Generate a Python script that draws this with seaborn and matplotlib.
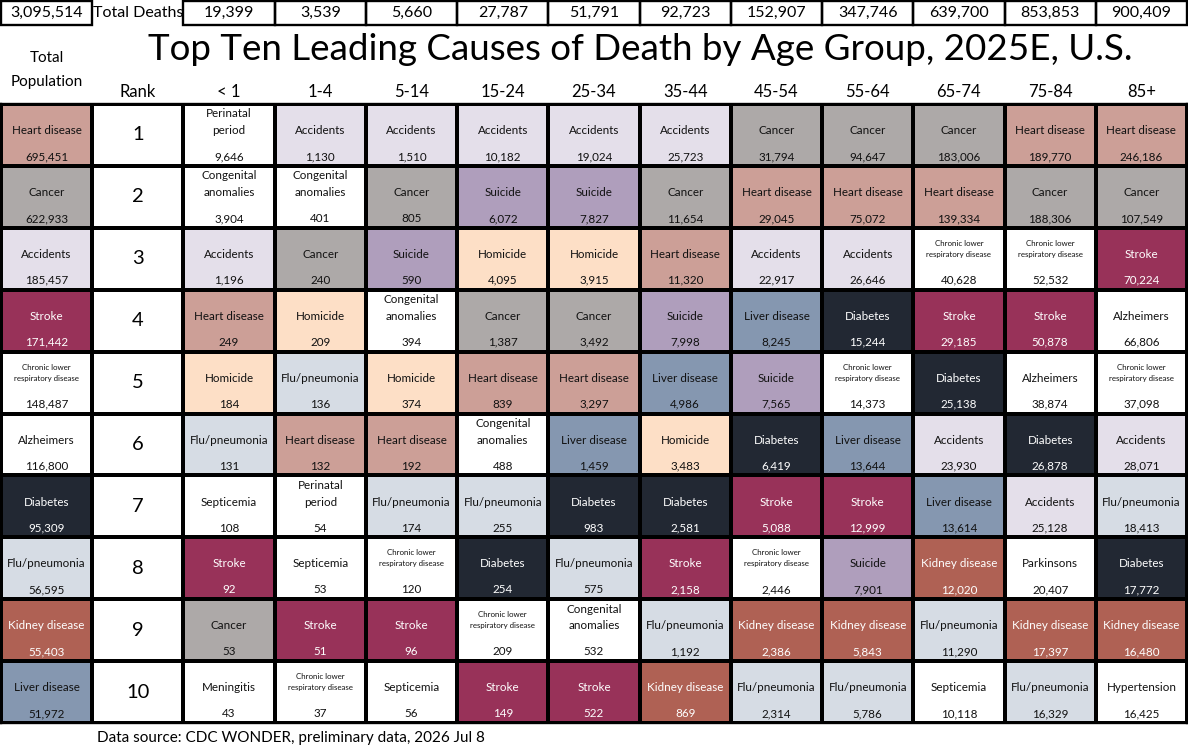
import numpy as np
import pandas as pd
import matplotlib
matplotlib.use("Agg")
import matplotlib.pyplot as plt
from matplotlib.colors import ListedColormap
from matplotlib.patches import Rectangle
import seaborn as sns

sns.set_theme(style="white")
plt.rcParams['font.family'] = ['Lato', 'DejaVu Sans']

# ---------------- data ----------------
age_groups = ["< 1", "1-4", "5-14", "15-24", "25-34", "35-44", "45-54",
              "55-64", "65-74", "75-84", "85+"]
total_deaths_all = "3,095,514"
total_deaths = [19399, 3539, 5660, 27787, 51791, 92723, 152907, 347746,
                639700, 853853, 900409]
ranks = list(range(1, 11))

CLRD = "Chronic lower respiratory disease"

total_pop_causes = ["Heart disease", "Cancer", "Accidents", "Stroke", CLRD,
                    "Alzheimers", "Diabetes", "Flu/pneumonia", "Kidney disease",
                    "Liver disease"]
total_pop_values = [695451, 622933, 185457, 171442, 148487, 116800, 95309,
                    56595, 55403, 51972]

causes_lt1 = ["Perinatal period", "Congenital anomalies", "Accidents", "Heart disease",
              "Homicide", "Flu/pneumonia", "Septicemia", "Stroke", "Cancer", "Meningitis"]
values_lt1 = [9646, 3904, 1196, 249, 184, 131, 108, 92, 53, 43]

causes_1_4 = ["Accidents", "Congenital anomalies", "Cancer", "Homicide", "Flu/pneumonia",
              "Heart disease", "Perinatal period", "Septicemia", "Stroke", CLRD]
values_1_4 = [1130, 401, 240, 209, 136, 132, 54, 53, 51, 37]

causes_5_14 = ["Accidents", "Cancer", "Suicide", "Congenital anomalies", "Homicide",
               "Heart disease", "Flu/pneumonia", CLRD, "Stroke", "Septicemia"]
values_5_14 = [1510, 805, 590, 394, 374, 192, 174, 120, 96, 56]

causes_15_24 = ["Accidents", "Suicide", "Homicide", "Cancer", "Heart disease",
                "Congenital anomalies", "Flu/pneumonia", "Diabetes", CLRD, "Stroke"]
values_15_24 = [10182, 6072, 4095, 1387, 839, 488, 255, 254, 209, 149]

causes_25_34 = ["Accidents", "Suicide", "Homicide", "Cancer", "Heart disease",
                "Liver disease", "Diabetes", "Flu/pneumonia", "Congenital anomalies", "Stroke"]
values_25_34 = [19024, 7827, 3915, 3492, 3297, 1459, 983, 575, 532, 522]

causes_35_44 = ["Accidents", "Cancer", "Heart disease", "Suicide", "Liver disease",
                "Homicide", "Diabetes", "Stroke", "Flu/pneumonia", "Kidney disease"]
values_35_44 = [25723, 11654, 11320, 7998, 4986, 3483, 2581, 2158, 1192, 869]

causes_45_54 = ["Cancer", "Heart disease", "Accidents", "Liver disease", "Suicide",
                "Diabetes", "Stroke", CLRD, "Kidney disease", "Flu/pneumonia"]
values_45_54 = [31794, 29045, 22917, 8245, 7565, 6419, 5088, 2446, 2386, 2314]

causes_55_64 = ["Cancer", "Heart disease", "Accidents", "Diabetes", CLRD,
                "Liver disease", "Stroke", "Suicide", "Kidney disease", "Flu/pneumonia"]
values_55_64 = [94647, 75072, 26646, 15244, 14373, 13644, 12999, 7901, 5843, 5786]

causes_65_74 = ["Cancer", "Heart disease", CLRD, "Stroke", "Diabetes", "Accidents",
                "Liver disease", "Kidney disease", "Flu/pneumonia", "Septicemia"]
values_65_74 = [183006, 139334, 40628, 29185, 25138, 23930, 13614, 12020, 11290, 10118]

causes_75_84 = ["Heart disease", "Cancer", CLRD, "Stroke", "Alzheimers", "Diabetes",
                "Accidents", "Parkinsons", "Kidney disease", "Flu/pneumonia"]
values_75_84 = [189770, 188306, 52532, 50878, 38874, 26878, 25128, 20407, 17397, 16329]

causes_85p = ["Heart disease", "Cancer", "Stroke", "Alzheimers", CLRD, "Accidents",
              "Flu/pneumonia", "Diabetes", "Kidney disease", "Hypertension"]
values_85p = [246186, 107549, 70224, 66806, 37098, 28071, 18413, 17772, 16480, 16425]

age_causes = [causes_lt1, causes_1_4, causes_5_14, causes_15_24, causes_25_34,
              causes_35_44, causes_45_54, causes_55_64, causes_65_74, causes_75_84, causes_85p]
age_values = [values_lt1, values_1_4, values_5_14, values_15_24, values_25_34,
              values_35_44, values_45_54, values_55_64, values_65_74, values_75_84, values_85p]

# ---------------- styles ----------------
cause_colors = {
    "": "#FFFFFF",
    "Heart disease": "#CC9F97",
    "Cancer": "#ADA9A8",
    "Accidents": "#E4DFEA",
    "Suicide": "#AF9EBC",
    "Homicide": "#FDDFC6",
    "Stroke": "#983259",
    "Diabetes": "#222833",
    "Liver disease": "#8597B0",
    "Flu/pneumonia": "#D6DCE4",
    "Kidney disease": "#AF6154",
}
white_text = {"Stroke", "Diabetes", "Kidney disease"}
cat_list = list(cause_colors.keys())

# build grid: column 0 = total population, column 1 = rank, columns 2.. = age groups
cols_causes = [total_pop_causes, [""] * 10] + age_causes
cols_values = [total_pop_values, [None] * 10] + age_values
n_rows, n_cols = 10, len(cols_causes)
codes = np.zeros((n_rows, n_cols))
for c in range(n_cols):
    for r in range(n_rows):
        codes[r, c] = cat_list.index(cols_causes[c][r]) if cols_causes[c][r] in cause_colors else 0
df = pd.DataFrame(codes)

W, H = 1188, 749
fig = plt.figure(figsize=(W / 100, H / 100), dpi=100)

def fx(px):
    return px / W

def fy(py):
    return 1 - py / H

grid_left, grid_right = 1, 1187
grid_top, grid_bot = 104, 723
ax = fig.add_axes([fx(grid_left), fy(grid_bot), fx(grid_right - grid_left),
                   (grid_bot - grid_top) / H])
cmap = ListedColormap([cause_colors[k] for k in cat_list])
sns.heatmap(df, ax=ax, cmap=cmap, vmin=-0.5, vmax=len(cat_list) - 0.5, cbar=False,
            linewidths=1.7, linecolor="black", square=False)
ax.set_xticks([]); ax.set_yticks([])
ax.set_xlabel(""); ax.set_ylabel("")
for s in ax.spines.values():
    s.set_visible(True)
    s.set_color("black")
    s.set_linewidth(1.7)

fs_cell = 8.4
fs_small = 5.7
for c in range(n_cols):
    for r in range(n_rows):
        cx = c + 0.5
        if c == 1:
            ax.text(cx, r + 0.5, str(ranks[r]), ha="center", va="center",
                    fontsize=14.5, color="black")
            continue
        name = cols_causes[c][r]
        val = cols_values[c][r]
        col = "white" if name in white_text else "#111111"
        if name == CLRD:
            ax.text(cx, r + 0.25, "Chronic lower", ha="center", va="center",
                    fontsize=fs_small, color=col)
            ax.text(cx, r + 0.43, "respiratory disease", ha="center", va="center",
                    fontsize=fs_small, color=col)
        elif name in ("Perinatal period", "Congenital anomalies"):
            a, b = name.split(" ")
            ax.text(cx, r + 0.16, a, ha="center", va="center", fontsize=fs_cell, color=col)
            ax.text(cx, r + 0.43, b, ha="center", va="center", fontsize=fs_cell, color=col)
        else:
            ax.text(cx, r + 0.43, name, ha="center", va="center", fontsize=fs_cell, color=col)
        ax.text(cx, r + 0.85, f"{val:,}", ha="center", va="center", fontsize=fs_cell, color=col)

# ---------------- top row: total deaths ----------------
tax = fig.add_axes([fx(grid_left), fy(25), fx(grid_right - grid_left), 24 / H])
tax.set_xlim(0, n_cols); tax.set_ylim(0, 1)
tax.axis("off")
top_labels = [total_deaths_all, "Total Deaths"] + [f"{v:,}" for v in total_deaths]
for c, lab in enumerate(top_labels):
    if c != 1:
        tax.add_patch(Rectangle((c, 0), 1, 1, fill=False, edgecolor="black",
                                linewidth=1.7, clip_on=False))
    tax.text(c + 0.5, 0.5, lab, ha="center", va="center", fontsize=11.5, color="black")

# ---------------- headers ----------------
col_w = (grid_right - grid_left) / n_cols
headers = ["Rank"] + age_groups
for i, h in enumerate(headers):
    fig.text(fx(grid_left + (i + 1.5) * col_w), fy(92), h, ha="center", va="center",
             fontsize=12, color="black")
fig.text(fx(grid_left + 0.5 * col_w), fy(58), "Total", ha="center", va="center",
         fontsize=11, color="black")
fig.text(fx(grid_left + 0.5 * col_w), fy(82), "Population", ha="center", va="center",
         fontsize=11, color="black")
fig.text(fx(640), fy(50), "Top Ten Leading Causes of Death by Age Group, 2025E, U.S.",
         ha="center", va="center", fontsize=26.5, color="black")
fig.text(fx(97), fy(738), "Data source: CDC WONDER, preliminary data, 2026 Jul 8",
         ha="left", va="center", fontsize=11, color="black")

fig.savefig("out.png", dpi=100, facecolor="white")
